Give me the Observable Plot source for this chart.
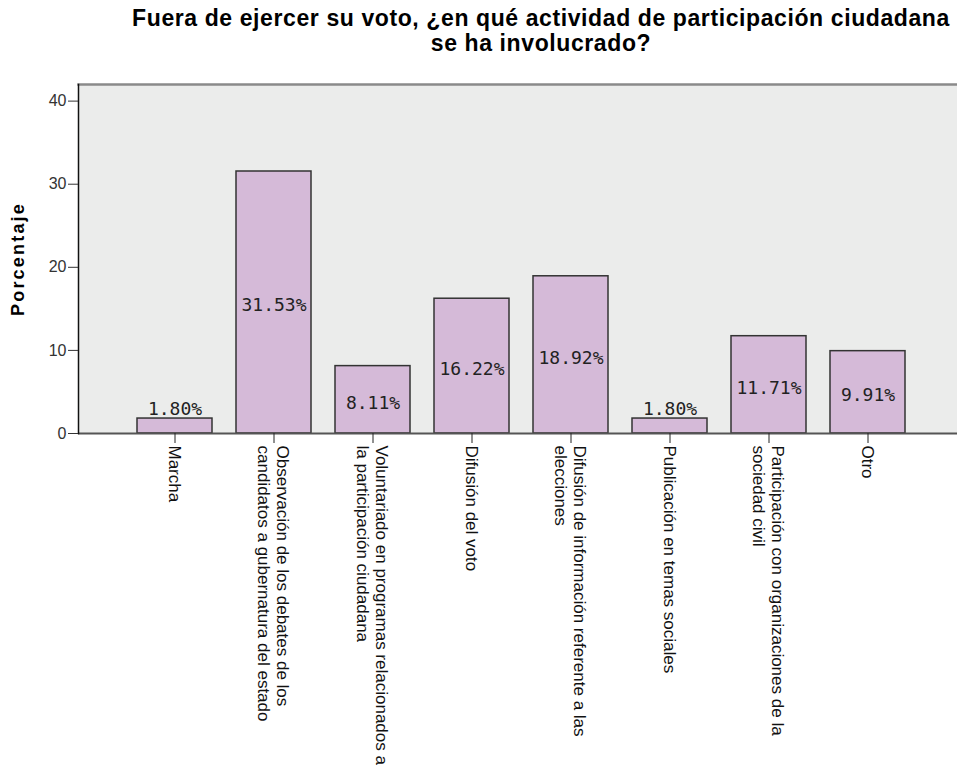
<!DOCTYPE html>
<html><head><meta charset="utf-8">
<script src="https://cdn.jsdelivr.net/npm/d3@7"></script>
<script src="https://cdn.jsdelivr.net/npm/@observablehq/plot@0.6"></script>
<style>
body{margin:0;background:#fff;width:957px;height:767px;overflow:hidden;font-family:"Liberation Sans",Arial,sans-serif}
#title{box-sizing:border-box;height:64px;padding:6px 0 0 125px;text-align:center;font-weight:bold;font-size:23px;line-height:25px;letter-spacing:0.6px;color:#000;white-space:nowrap}
#title div{height:25px}
#chart svg{display:block}
</style></head><body>
<div id="title"><div>Fuera de ejercer su voto, ¿en qué actividad de participación ciudadana</div><div>se ha involucrado?</div></div>
<div id="chart"></div>
<script>
const categories = ["Marcha", "Observación", "Voluntariado", "Difusión del voto", "Difusión de información", "Publicación", "Participación", "Otro"];
const tickLabels = [
  "Marcha",
  "Observación de los debates de los\ncandidatos a gubernatura del estado",
  "Voluntariado en programas relacionados a\nla participación ciudadana",
  "Difusión del voto",
  "Difusión de información referente a las\nelecciones",
  "Publicación en temas sociales",
  "Participación con organizaciones de la\nsociedad civil",
  "Otro"
];
const values = [1.80, 31.53, 8.11, 16.22, 18.92, 1.80, 11.71, 9.91];
const yTicks = [0, 10, 20, 30, 40];
const yLabel = "Porcentaje";

const data = categories.map((c, i) => ({cat: c, value: values[i], label: values[i].toFixed(2) + "%"}));
const labelMap = new Map(categories.map((c, i) => [c, tickLabels[i]]));

const monoFont = "DejaVu Sans Mono, monospace";
const chart = Plot.plot({
  width: 957,
  height: 703,
  marginTop: 20,
  marginBottom: 334,
  marginLeft: 78,
  marginRight: 0,
  style: {fontFamily: "Liberation Sans, Arial, sans-serif", background: "transparent", color: "#111"},
  x: {domain: categories, range: [78, 964], paddingInner: 0.246, paddingOuter: 0.575, axis: null},
  y: {domain: [0, 42], axis: null},
  marks: [
    Plot.frame({fill: "#EBECEB", stroke: null}),
    Plot.frame({anchor: "top", stroke: "#8a8a8a", strokeWidth: 2.5}),
    Plot.barY(data, {x: "cat", y: "value", fill: "#D5BAD8", stroke: "#333", strokeWidth: 1.5}),
    Plot.ruleY([0], {stroke: "#555", strokeWidth: 2}),
    Plot.frame({anchor: "left", stroke: "#111", strokeWidth: 1.5}),
    Plot.text(data.filter(d => d.value >= 3), {x: "cat", y: d => d.value / 2, text: "label", fontFamily: monoFont, fontSize: 18, fill: "#222", dy: 3}),
    Plot.text(data.filter(d => d.value < 3), {x: "cat", y: "value", text: "label", fontFamily: monoFont, fontSize: 18, fill: "#222", lineAnchor: "bottom", dy: -4}),
    Plot.axisX({tickSize: 10, tickPadding: 2, tickRotate: 90, fontSize: 17, lineHeight: 1.14, tickFormat: d => labelMap.get(d), label: null, stroke: "#222", fill: "#111"}),
    Plot.axisY({ticks: yTicks, tickSize: 10, tickPadding: 2, fontSize: 16, label: null, stroke: "#333", fill: "#333"}),
    Plot.text([yLabel], {frameAnchor: "left", textAnchor: "middle", dx: -60, rotate: -90, fontWeight: "bold", fontSize: 18, fill: "#000", text: d => d})
  ]
});
document.getElementById("chart").appendChild(chart);
d3.select(chart).selectAll("text").filter(function() { return this.textContent === yLabel; }).style("letter-spacing", "2.2px");
</script>
</body></html>
